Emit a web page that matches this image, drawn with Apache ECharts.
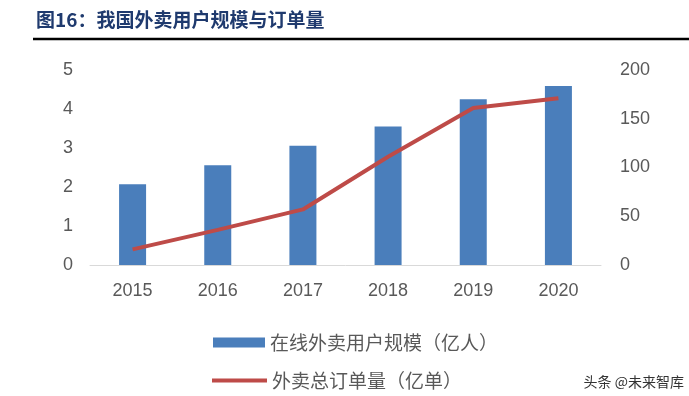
<!DOCTYPE html>
<html><head><meta charset="utf-8">
<script src="https://cdn.jsdelivr.net/npm/echarts@6/dist/echarts.min.js"></script>
<style>html,body{margin:0;padding:0;background:#fff}#c{width:689px;height:396px}</style>
</head><body><div id="c"></div>
<script>
const years = ['2015','2016','2017','2018','2019','2020'];
const users = [2.07, 2.56, 3.06, 3.55, 4.25, 4.59];
const orders = [16, 36, 57, 111, 161, 171];
const leftTicks = {min: 0, max: 5, interval: 1};
const rightTicks = {min: 0, max: 200, interval: 50};
const seriesNames = ['在线外卖用户规模（亿人）', '外卖总订单量（亿单）'];

const chart = echarts.init(document.getElementById('c'));
const axisFont = {fontFamily: 'Liberation Sans, Arial, sans-serif', fontSize: 18, color: '#595959'};
chart.setOption({
  animation: false,
  title: {
    text: '图16：我国外卖用户规模与订单量', left: 31, top: 5,
    textStyle: {fontFamily: 'Noto Sans CJK SC', fontWeight: 'bold', fontSize: 19, color: '#1f3a6e'}
  },
  graphic: [
    {type: 'line', shape: {x1: 33, y1: 39, x2: 689, y2: 39}, style: {stroke: '#000', lineWidth: 2.5}},
    {type: 'text', right: 5, top: 375, style: {text: '头条 @未来智库', fontFamily: 'Noto Sans CJK SC', fontSize: 14, fill: '#333'}}
  ],
  grid: {left: 90, right: 88, top: 70, bottom: 131},
  legend: [
    {data: [{name: seriesNames[0], icon: 'rect'}], left: 208, top: 328, itemWidth: 52, itemHeight: 10, itemGap: 6,
     textStyle: {fontFamily: 'Noto Sans CJK SC', fontSize: 19, color: '#595959'}},
    {data: [{name: seriesNames[1], icon: 'rect'}], left: 207, top: 366, itemWidth: 55, itemHeight: 4,
     textStyle: {fontFamily: 'Noto Sans CJK SC', fontSize: 19, color: '#595959'}}
  ],
  xAxis: {
    type: 'category', data: years,
    axisLine: {lineStyle: {color: '#d9d9d9', width: 1}},
    axisTick: {show: false},
    axisLabel: Object.assign({margin: 17}, axisFont)
  },
  yAxis: [
    Object.assign({type: 'value', splitLine: {show: false}, axisLine: {show: false}, axisTick: {show: false},
      axisLabel: Object.assign({margin: 17}, axisFont)}, leftTicks),
    Object.assign({type: 'value', splitLine: {show: false}, axisLine: {show: false}, axisTick: {show: false},
      axisLabel: Object.assign({margin: 19}, axisFont)}, rightTicks)
  ],
  series: [
    {name: seriesNames[0], type: 'bar', data: users, barWidth: 27, itemStyle: {color: '#4a7ebb'}},
    {name: seriesNames[1], type: 'line', yAxisIndex: 1, data: orders, symbol: 'none',
     lineStyle: {color: '#be4b48', width: 4}, itemStyle: {color: '#be4b48'}}
  ]
});
</script></body></html>
